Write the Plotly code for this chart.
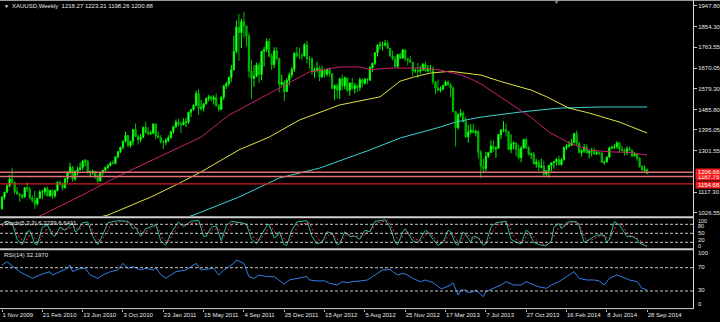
import pandas as pd
import plotly.graph_objects as go

# ---------------- data ----------------
start_date = "2009-11-01"
first_open = 1045.0

highs_2009 = [1101, 1120, 1153, 1195, 1227, 1165, 1141, 1112, 1111]
lows_2009 = [1040, 1085, 1115, 1140, 1160, 1110, 1106, 1075, 1087]
closes_2009 = [1096, 1118, 1146, 1176, 1162, 1120, 1110, 1104, 1096]

highs_2010 = [1140, 1162, 1142, 1104, 1123, 1092, 1128, 1127, 1140, 1143, 1128, 1130, 1128, 1166, 1170, 1161, 1180, 1210, 1249, 1234,
              1214, 1231, 1250, 1262, 1265, 1262, 1214, 1218, 1212, 1196, 1208, 1218, 1231, 1242, 1254, 1259, 1276, 1300, 1320, 1348,
              1387, 1372, 1346, 1398, 1424, 1374, 1378, 1410, 1432, 1407, 1392, 1424]
lows_2010 = [1094, 1120, 1087, 1073, 1044, 1058, 1088, 1088, 1105, 1100, 1096, 1088, 1092, 1122, 1148, 1126, 1134, 1160, 1198, 1166,
             1169, 1193, 1214, 1216, 1232, 1200, 1190, 1195, 1178, 1157, 1165, 1192, 1211, 1221, 1232, 1241, 1242, 1268, 1292, 1308,
             1339, 1317, 1316, 1327, 1363, 1330, 1340, 1360, 1378, 1371, 1373, 1378]
closes_2010 = [1138, 1131, 1092, 1082, 1066, 1091, 1119, 1119, 1134, 1101, 1126, 1103, 1125, 1162, 1155, 1138, 1178, 1208, 1229, 1177,
               1211, 1218, 1227, 1256, 1256, 1209, 1210, 1211, 1188, 1168, 1205, 1216, 1228, 1237, 1247, 1246, 1275, 1298, 1318, 1345,
               1370, 1325, 1345, 1397, 1366, 1352, 1362, 1406, 1385, 1377, 1380, 1421]

highs_2011 = [1424, 1389, 1372, 1349, 1359, 1371, 1389, 1414, 1441, 1445, 1436, 1447, 1448, 1476, 1488, 1508, 1569, 1577, 1528, 1515,
              1537, 1550, 1549, 1549, 1557, 1510, 1543, 1595, 1609, 1632, 1684, 1814, 1881, 1911, 1889, 1921, 1859, 1825, 1707, 1682,
              1694, 1696, 1748, 1765, 1802, 1803, 1734, 1763, 1763, 1716, 1640, 1617]
lows_2011 = [1353, 1360, 1334, 1309, 1328, 1340, 1357, 1378, 1402, 1411, 1381, 1416, 1408, 1422, 1452, 1480, 1502, 1462, 1481, 1477,
             1508, 1522, 1521, 1508, 1500, 1478, 1483, 1528, 1577, 1588, 1609, 1658, 1735, 1702, 1759, 1803, 1766, 1628, 1532, 1587,
             1629, 1604, 1616, 1676, 1741, 1717, 1662, 1670, 1707, 1562, 1590, 1523]
closes_2011 = [1369, 1360, 1342, 1340, 1348, 1360, 1388, 1409, 1429, 1421, 1418, 1429, 1429, 1474, 1486, 1504, 1556, 1491, 1493, 1511,
               1536, 1542, 1531, 1539, 1502, 1486, 1541, 1591, 1601, 1628, 1663, 1744, 1852, 1828, 1877, 1857, 1813, 1657, 1624, 1635,
               1683, 1642, 1745, 1753, 1788, 1724, 1685, 1746, 1713, 1598, 1606, 1565]

highs_2012 = [1626, 1650, 1674, 1740, 1764, 1762, 1737, 1781, 1792, 1723, 1719, 1673, 1699, 1680, 1679, 1666, 1669, 1672, 1646, 1597,
              1600, 1628, 1641, 1633, 1628, 1606, 1627, 1604, 1597, 1628, 1625, 1625, 1626, 1680, 1692, 1741, 1777, 1788, 1787, 1796,
              1792, 1760, 1747, 1725, 1732, 1738, 1755, 1754, 1715, 1725, 1697, 1668, 1693]
lows_2012 = [1564, 1592, 1627, 1653, 1716, 1710, 1707, 1722, 1691, 1667, 1640, 1627, 1651, 1612, 1626, 1627, 1633, 1632, 1578, 1527,
             1535, 1532, 1571, 1576, 1563, 1547, 1575, 1557, 1564, 1568, 1585, 1597, 1598, 1614, 1653, 1684, 1721, 1753, 1748, 1766,
             1757, 1720, 1705, 1673, 1671, 1709, 1714, 1702, 1683, 1695, 1635, 1649, 1626]
closes_2012 = [1616, 1640, 1664, 1737, 1725, 1725, 1724, 1774, 1711, 1711, 1657, 1662, 1669, 1631, 1660, 1643, 1663, 1645, 1579, 1592,
               1572, 1622, 1591, 1626, 1572, 1604, 1579, 1591, 1583, 1618, 1603, 1620, 1616, 1672, 1692, 1738, 1771, 1773, 1773, 1780,
               1758, 1724, 1711, 1677, 1731, 1714, 1751, 1712, 1705, 1696, 1657, 1659, 1656]

highs_2013 = [1679, 1692, 1697, 1684, 1684, 1676, 1612, 1619, 1589, 1597, 1615, 1616, 1605, 1589, 1478, 1470, 1487, 1478, 1453, 1417,
              1420, 1423, 1397, 1394, 1305, 1267, 1297, 1298, 1348, 1348, 1322, 1377, 1398, 1434, 1424, 1391, 1375, 1344, 1338, 1330,
              1325, 1355, 1362, 1323, 1294, 1297, 1266, 1261, 1267, 1258, 1216, 1240]
lows_2013 = [1645, 1660, 1654, 1651, 1654, 1596, 1554, 1565, 1562, 1571, 1591, 1591, 1540, 1473, 1321, 1396, 1451, 1427, 1359, 1338,
             1375, 1382, 1366, 1268, 1180, 1207, 1211, 1270, 1294, 1297, 1271, 1311, 1354, 1385, 1366, 1306, 1292, 1308, 1277, 1264,
             1251, 1311, 1311, 1281, 1266, 1240, 1227, 1211, 1224, 1186, 1191, 1182]
closes_2013 = [1661, 1687, 1658, 1666, 1667, 1609, 1581, 1572, 1577, 1592, 1608, 1595, 1581, 1476, 1405, 1462, 1469, 1433, 1364, 1386,
               1393, 1383, 1387, 1296, 1234, 1223, 1277, 1295, 1323, 1310, 1313, 1375, 1395, 1396, 1387, 1308, 1333, 1337, 1310, 1272,
               1315, 1352, 1314, 1287, 1288, 1244, 1251, 1229, 1234, 1198, 1213, 1237]

highs_2014 = [1249, 1256, 1270, 1280, 1269, 1320, 1332, 1345, 1355, 1383, 1392, 1341, 1309, 1332, 1331, 1305, 1315, 1315, 1305, 1299,
              1295, 1257, 1277, 1321, 1325, 1332, 1345, 1340, 1325, 1312, 1322, 1321, 1306, 1297, 1291, 1274, 1239, 1237, 1223.21]
lows_2014 = [1211, 1222, 1237, 1238, 1237, 1258, 1307, 1316, 1325, 1336, 1321, 1290, 1277, 1293, 1291, 1268, 1277, 1284, 1284, 1282,
             1248, 1240, 1251, 1268, 1308, 1310, 1312, 1292, 1302, 1281, 1283, 1302, 1273, 1277, 1258, 1228, 1215, 1207, 1198.26]
closes_2014 = [1249, 1254, 1264, 1240, 1262, 1318, 1323, 1326, 1338, 1379, 1335, 1294, 1302, 1318, 1293, 1301, 1302, 1288, 1293, 1292,
               1250, 1252, 1274, 1315, 1317, 1320, 1337, 1310, 1303, 1294, 1311, 1305, 1280, 1287, 1269, 1231, 1216, 1218.27, 1200.88]

# moving averages (week number since first bar, value)
ma_magenta = [(12, 995), (31, 1100), (47, 1194), (79, 1363), (90, 1461), (94, 1484), (110, 1581), (122, 1653), (134, 1675),
              (142, 1675), (146, 1663), (154, 1670), (166, 1670), (174, 1661), (182, 1640), (186, 1622), (190, 1600),
              (198, 1541), (206, 1480), (210, 1450), (217, 1386), (225, 1337), (233, 1306), (241, 1297), (248, 1296), (256, 1283)]
ma_yellow = [(36, 1000), (42, 1016), (59, 1096), (69, 1150), (79, 1208), (94, 1306), (106, 1363), (118, 1439), (134, 1506),
             (150, 1542), (158, 1612), (164, 1632), (170, 1648), (178, 1656), (190, 1639), (198, 1610), (210, 1572),
             (216, 1543), (225, 1492), (233, 1470), (245, 1430), (256, 1381)]
ma_cyan = [(70, 995), (76, 1016), (94, 1096), (110, 1181), (126, 1225), (146, 1306), (158, 1359), (174, 1408), (180, 1430),
           (190, 1452), (206, 1475), (221, 1492), (237, 1497), (256, 1497)]

# horizontal levels
levels_red = [1206.66, 1187.75, 1154.68]

# Stochastic(5,3,3): main and signal
stoch_main = [(0, 80), (2, 90), (4, 85), (6, 30), (8, 12), (10, 55), (11, 60), (13, 15), (14, 12), (16, 70), (18, 78), (20, 45),
              (21, 40), (23, 70), (25, 60), (28, 85), (29, 55), (30, 60), (32, 85), (34, 88), (36, 40), (38, 12), (40, 45),
              (42, 85), (46, 92), (50, 90), (52, 65), (53, 70), (55, 40), (57, 65), (60, 75), (61, 80), (63, 25), (65, 10),
              (67, 50), (70, 88), (72, 72), (75, 90), (78, 93), (80, 40), (81, 40), (83, 70), (85, 75), (87, 25), (89, 75),
              (91, 90), (95, 85), (97, 80), (99, 30), (101, 15), (103, 45), (105, 75), (106, 80), (108, 35), (109, 40),
              (110, 55), (112, 12), (113, 10), (115, 60), (117, 88), (121, 92), (123, 40), (125, 15), (127, 20), (129, 55),
              (131, 50), (133, 12), (134, 15), (136, 55), (138, 40), (140, 40), (142, 30), (144, 60), (146, 55), (148, 90),
              (152, 95), (154, 70), (156, 20), (157, 12), (159, 55), (160, 65), (163, 25), (165, 18), (168, 60), (169, 55),
              (171, 30), (173, 10), (175, 20), (177, 60), (178, 55), (180, 15), (181, 10), (183, 55), (184, 45), (186, 20),
              (187, 40), (189, 35), (191, 10), (192, 15), (194, 70), (196, 85), (198, 88), (200, 90), (202, 30), (204, 20),
              (206, 15), (208, 60), (209, 55), (211, 20), (213, 12), (216, 8), (218, 25), (219, 70), (221, 83), (222, 65),
              (224, 85), (226, 90), (228, 88), (229, 75), (231, 20), (233, 30), (236, 44), (239, 44), (240, 20), (241, 30),
              (243, 89), (245, 78), (246, 65), (248, 39), (250, 39), (252, 30), (253, 17), (256, 6.2239)]
stoch_signal = [(0, 75), (3, 85), (5, 70), (7, 35), (9, 20), (11, 45), (12, 45), (14, 22), (15, 25), (17, 60), (19, 65),
                (21, 48), (22, 48), (24, 62), (26, 65), (29, 72), (30, 62), (31, 65), (33, 80), (35, 75), (37, 40), (39, 22),
                (41, 45), (43, 75), (47, 90), (51, 85), (53, 70), (54, 65), (56, 50), (58, 60), (61, 75), (62, 65), (64, 30),
                (66, 22), (68, 50), (71, 80), (73, 78), (76, 85), (79, 80), (81, 50), (82, 48), (84, 65), (86, 65), (88, 40),
                (90, 65), (92, 85), (96, 85), (98, 70), (100, 35), (102, 25), (104, 45), (106, 70), (107, 70), (109, 45),
                (111, 42), (113, 22), (114, 25), (116, 55), (118, 80), (122, 85), (124, 50), (126, 25), (128, 28), (130, 48),
                (132, 40), (134, 22), (135, 28), (137, 48), (139, 42), (141, 40), (143, 38), (145, 55), (147, 65), (149, 85),
                (153, 92), (155, 65), (157, 30), (158, 28), (160, 52), (161, 55), (164, 30), (166, 25), (169, 52), (170, 50),
                (172, 30), (174, 18), (176, 28), (178, 52), (179, 45), (181, 22), (182, 22), (184, 45), (185, 42), (187, 30),
                (188, 35), (190, 30), (192, 15), (193, 25), (195, 60), (197, 80), (199, 86), (201, 80), (203, 40), (205, 22),
                (207, 25), (209, 50), (210, 48), (212, 28), (214, 15), (217, 12), (219, 40), (221, 70), (223, 72), (225, 85),
                (227, 88), (229, 82), (230, 60), (232, 25), (234, 28), (237, 40), (239, 42), (241, 30), (242, 45), (244, 80),
                (246, 82), (247, 65), (249, 42), (251, 40), (253, 28), (254, 20), (256, 6.6411)]

# RSI(14)
rsi_points = [(0, 74.6), (2, 80.3), (7, 63.2), (12, 51.7), (15, 57.5), (19, 63.2), (20, 57.5), (26, 68.9), (27, 74.6),
              (28, 63.2), (31, 68.9), (33, 68.9), (35, 57.5), (38, 51.7), (40, 57.5), (43, 63.2), (46, 66.0), (48, 77.5),
              (50, 68.9), (52, 71.8), (55, 66.0), (57, 68.9), (60, 66.0), (61, 70.0), (63, 58.0), (65, 52.0), (67, 57.5),
              (69, 63.2), (73, 66.0), (76, 74.6), (77, 77.5), (79, 66.0), (81, 67.2), (84, 68.9), (86, 57.5), (88, 66.0),
              (90, 71.8), (92, 77.5), (93, 83.2), (96, 77.5), (98, 54.6), (100, 51.7), (102, 57.5), (105, 54.6), (108, 54.6),
              (112, 42.0), (114, 48.9), (118, 51.7), (121, 55.0), (122, 48.9), (125, 47.2), (128, 47.5), (130, 43.2),
              (133, 40.3), (135, 46.0), (137, 44.3), (139, 46.0), (142, 47.2), (145, 48.9), (147, 54.6), (150, 63.2),
              (151, 66.0), (154, 67.2), (155, 63.2), (157, 57.5), (159, 60.3), (161, 57.5), (163, 51.7), (166, 46.0),
              (168, 48.9), (171, 44.3), (174, 34.6), (175, 34.6), (178, 40.3), (179, 44.0), (180, 31.7), (181, 23.1),
              (182, 31.7), (184, 31.7), (185, 27.0), (187, 28.9), (188, 31.7), (191, 20.3), (192, 28.9), (195, 34.6),
              (198, 40.3), (200, 46.0), (203, 40.3), (206, 40.3), (208, 46.0), (211, 40.3), (213, 37.4), (216, 34.6),
              (218, 40.3), (221, 46.0), (225, 57.5), (227, 63.2), (229, 51.7), (232, 48.9), (235, 48.9), (237, 47.2),
              (239, 40.3), (241, 51.7), (244, 57.5), (247, 51.7), (249, 48.9), (252, 46.0), (254, 34.6), (256, 32.197)]

price_ticks = [1947.80, 1854.30, 1763.55, 1670.05, 1579.30, 1485.80, 1395.05, 1301.55, 1117.30, 1026.55]
date_tick_labels = ["2009-11-01", "2010-02-21", "2010-06-13", "2010-10-03", "2011-01-23", "2011-05-15", "2011-09-04",
                    "2011-12-25", "2012-04-15", "2012-08-05", "2012-11-25", "2013-03-17", "2013-07-07", "2013-10-27",
                    "2014-02-16", "2014-06-08", "2014-09-28"]

title_text = "XAUUSD,Weekly  1218.27 1223.21 1198.26 1200.88"
stoch_text = "Stoch(5,3,3) 6.2239 6.6411"
rsi_text = "RSI(14) 32.1970"

# ---------------- assemble ----------------
highs = highs_2009 + highs_2010 + highs_2011 + highs_2012 + highs_2013 + highs_2014
lows = lows_2009 + lows_2010 + lows_2011 + lows_2012 + lows_2013 + lows_2014
closes = closes_2009 + closes_2010 + closes_2011 + closes_2012 + closes_2013 + closes_2014
opens = [first_open] + closes[:-1]
t0 = pd.Timestamp(start_date)
dates = [t0 + pd.Timedelta(weeks=i) for i in range(len(closes))]


def wk(points):
    return [t0 + pd.Timedelta(weeks=w) for w, _ in points], [v for _, v in points]


W, H = 693.0, 309.0  # plot-area size in px (margins: l0 r27 t0 b13)


def py(p):
    return (H - p) / H


FONT = "Liberation Sans, Arial, sans-serif"
TXT = "#e6e6e6"

fig = go.Figure()
fig.add_trace(go.Candlestick(
    x=dates, open=opens, high=highs, low=lows, close=closes,
    increasing=dict(line=dict(color="#00ff00", width=1), fillcolor="#7dff7d"),
    decreasing=dict(line=dict(color="#00c000", width=1), fillcolor="#009000"),
    whiskerwidth=0, xaxis="x", yaxis="y", showlegend=False, hoverinfo="skip"))

for pts, col in [(ma_cyan, "#3cd2d2"), (ma_yellow, "#e0e048"), (ma_magenta, "#c8206e")]:
    xs, ys = wk(pts)
    fig.add_trace(go.Scatter(x=xs, y=ys, mode="lines", line=dict(color=col, width=1),
                             xaxis="x", yaxis="y", showlegend=False, hoverinfo="skip"))

xs, ys = wk(stoch_signal)
fig.add_trace(go.Scatter(x=xs, y=ys, mode="lines", line=dict(color="#ff3030", width=1, dash="2px,2px"),
                         xaxis="x", yaxis="y2", showlegend=False, hoverinfo="skip"))
xs, ys = wk(stoch_main)
fig.add_trace(go.Scatter(x=xs, y=ys, mode="lines", line=dict(color="#2ab4a0", width=1),
                         xaxis="x", yaxis="y2", showlegend=False, hoverinfo="skip"))
xs, ys = wk(rsi_points)
fig.add_trace(go.Scatter(x=xs, y=ys, mode="lines", line=dict(color="#2f7fe8", width=1),
                         xaxis="x", yaxis="y3", showlegend=False, hoverinfo="skip"))

shapes = []
# red support/resistance lines
for lv, col in zip(levels_red, ["#e07070", "#e07070", "#d02020"]):
    shapes.append(dict(type="line", xref="paper", x0=0, x1=1, yref="y", y0=lv, y1=lv,
                       line=dict(color=col, width=1.4)))
# indicator levels
for lv in [80, 50, 20]:
    shapes.append(dict(type="line", xref="paper", x0=0, x1=1, yref="y2", y0=lv, y1=lv,
                       line=dict(color="#c8c8c8", width=1, dash="3px,2px")))
for lv in [70, 30]:
    shapes.append(dict(type="line", xref="paper", x0=0, x1=1, yref="y3", y0=lv, y1=lv,
                       line=dict(color="#c8c8c8", width=1, dash="3px,2px")))
# window separators / frame
for ypx, wdt in [(217.3, 2), (249.3, 2), (308.6, 1)]:
    shapes.append(dict(type="line", xref="paper", x0=0, x1=1, yref="paper", y0=py(ypx), y1=py(ypx),
                       line=dict(color="#cfcfcf", width=wdt)))
shapes.append(dict(type="line", xref="paper", x0=0, x1=720 / W, yref="paper", y0=py(0.5), y1=py(0.5),
                   line=dict(color="#9a9a9a", width=1)))
shapes.append(dict(type="line", xref="paper", x0=1 + 0.5 / W, x1=1 + 0.5 / W, yref="paper", y0=py(309), y1=py(0),
                   line=dict(color="#d8d8d8", width=1)))

ann = []


def label(text, xpx, ypx, color=TXT, size=6, bg=None, width=None, xanchor="left"):
    d = dict(xref="paper", yref="paper", x=xpx / W, y=py(ypx), text=text, showarrow=False,
             xanchor=xanchor, yanchor="middle", font=dict(family=FONT, size=size, color=color), borderpad=0)
    if bg:
        d["bgcolor"] = bg
    if width:
        d["width"] = width
        d["align"] = "center"
    ann.append(d)


label("▼", 2.5, 6, size=5)
label(title_text, 11, 6)
label("▼", 553, 2.5, color="#9a9a9a", size=5)
label(stoch_text, 3, 222.7)
label(rsi_text, 3, 255.3)
for t, ypx, sz in [("100", 221.4, 5.5), ("80", 226.2, 5.5), ("50", 233.0, 6), ("20", 240.4, 6), ("0", 245.6, 5.5)]:
    label(t, 697, ypx, size=sz)
for t, ypx in [("100", 253.3), ("70", 267.4), ("30", 290.2), ("0", 304.3)]:
    label(t, 697, ypx)
# red price boxes on the axis (middle one partly hidden)
for lv, ypx in [(levels_red[1], 177.0), (levels_red[0], 172.2), (levels_red[2], 184.6)]:
    label(f"{lv:.2f}", 694.5, ypx, color="#ffffff", bg="#f01c1c", width=26)

x_left = t0 - pd.Timedelta(weeks=0.8)
x_right = t0 + pd.Timedelta(weeks=274.2)

fig.update_layout(
    width=720, height=322,
    margin=dict(l=0, r=27, t=0, b=13, pad=0),
    paper_bgcolor="#000000", plot_bgcolor="#000000",
    font=dict(family=FONT, size=6, color=TXT),
    showlegend=False, hovermode=False,
    shapes=shapes, annotations=ann,
    xaxis=dict(type="date", range=[x_left, x_right], anchor="free", position=0,
               rangeslider=dict(visible=False), showgrid=False, zeroline=False, showline=False,
               tickvals=date_tick_labels, tickformat="%-d %b %Y", ticks="outside", ticklen=2,
               tickcolor="#c8c8c8", ticklabelposition="outside right", tickangle=0,
               tickfont=dict(family=FONT, size=6, color=TXT), fixedrange=True),
    yaxis=dict(domain=[py(216), py(1)], range=[1011.9, 1968.6], side="right", anchor="x",
               showgrid=False, zeroline=False, showline=False,
               tickvals=price_ticks, ticktext=[f"{v:.2f}" for v in price_ticks],
               ticks="outside", ticklen=3, tickcolor="#c8c8c8",
               tickfont=dict(family=FONT, size=6, color=TXT), fixedrange=True),
    yaxis2=dict(domain=[py(248.3), py(218.3)], range=[0, 100], anchor="x",
                showgrid=False, zeroline=False, showticklabels=False, showline=False, fixedrange=True),
    yaxis3=dict(domain=[py(308.5), py(250.2)], range=[0, 100], anchor="x",
                showgrid=False, zeroline=False, showticklabels=False, showline=False, fixedrange=True),
)

fig.write_html("out.html")
